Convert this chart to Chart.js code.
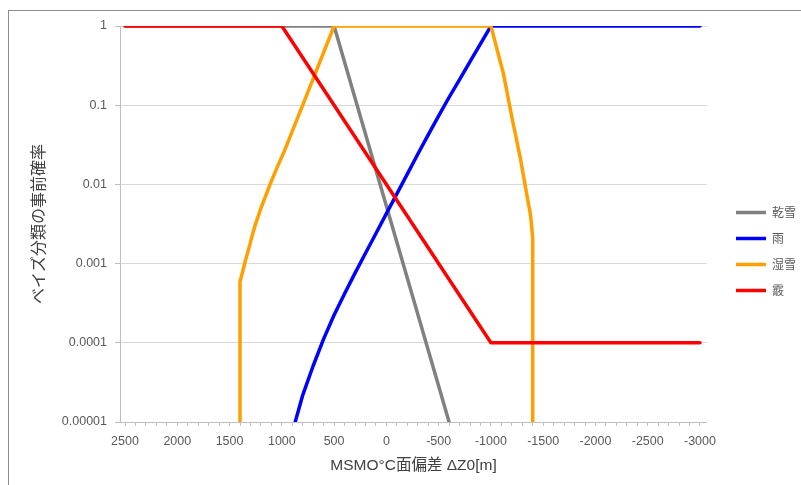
<!DOCTYPE html>
<html>
<head>
<meta charset="utf-8">
<script src="https://cdn.jsdelivr.net/npm/chart.js@4.4.1/dist/chart.umd.min.js"></script>
<style>
    html, body { margin: 0; padding: 0; background: #fff; overflow: hidden; }
    #wrap { position: relative; width: 801px; height: 485px; overflow: hidden; }
    #frame { position: absolute; left: 8px; top: 10px; width: 830px; height: 520px; border: 1px solid #8c8c8c; }
    canvas { position: absolute; left: 0; top: 0; }
</style>
</head>
<body>
<div id="wrap">
    <div id="frame"></div>
    <canvas id="chart" width="801" height="485"></canvas>
</div>
<script>
// series names (legend)
const seriesNames = ['乾雪', '雨', '湿雪', '霰'];

// 乾雪
const drySnowX = [2500, 500, -600];
const drySnowY = [1, 1, 0.00001];

// 雨
const rainX = [872, 800, 700, 600, 500, 400, 300, 200, 100, 0, -100, -200, -300, -400, -500, -600, -700, -800, -900, -1000, -3000];
const rainY = [0.00001, 0.0000219, 0.0000513, 0.000112, 0.000224, 0.000417, 0.000759, 0.00135, 0.0024, 0.00427, 0.00759, 0.0135, 0.024, 0.0422, 0.0733, 0.126, 0.211, 0.355, 0.596, 1, 1];

// 湿雪
const wetSnowX = [1400, 1400, 1375, 1350, 1320, 1290, 1250, 1200, 1150, 1110, 1050, 970, 900, 825, 500,
    -1000, -1120, -1200, -1280, -1330, -1380, -1400, -1400];
const wetSnowY = [0.00001, 0.00059, 0.00079, 0.00107, 0.00148, 0.0021, 0.0032, 0.005, 0.0074, 0.0102, 0.0158, 0.0275, 0.047, 0.083, 1,
    1, 0.25, 0.071, 0.022, 0.0093, 0.004, 0.0021, 0.00001];

// 霰
const graupelX = [2500, 1000, -1000, -3000];
const graupelY = [1, 1, 0.0001, 0.0001];

// y axis ticks
const yTickValues = [0.00001, 0.0001, 0.001, 0.01, 0.1, 1];
const yTickLabels = ['0.00001', '0.0001', '0.001', '0.01', '0.1', '1'];

const xTitle = 'MSMO°C面偏差 ΔZ0[m]';
const yTitle = 'ベイズ分類の事前確率';

const toPoints = (xs, ys) => xs.map((x, i) => ({ x: x, y: ys[i] }));

const tickFont = { family: "'Liberation Sans', Arial, sans-serif", size: 12.5 };

const lineStyle = (color, order) => ({
    borderColor: color,
    backgroundColor: color,
    borderWidth: 3.5,
    pointRadius: 0,
    pointHoverRadius: 0,
    tension: 0,
    fill: false,
    borderJoinStyle: 'round',
    borderCapStyle: 'round',
    order: order
});

// push the legend a little to the right / up, like the original
const legendShift = {
    id: 'legendShift',
    afterLayout(chart) {
        const lg = chart.legend;
        lg.left += 15; lg.right += 15;
        lg.top -= 4; lg.bottom -= 4;
    }
};

const ctx = document.getElementById('chart').getContext('2d');
const chart = new Chart(ctx, {
    type: 'line',
    data: {
        datasets: [
            { label: seriesNames[0], data: toPoints(drySnowX, drySnowY), ...lineStyle('#808080', 4) },
            { label: seriesNames[1], data: toPoints(rainX, rainY), ...lineStyle('#0000ff', 3) },
            { label: seriesNames[2], data: toPoints(wetSnowX, wetSnowY), ...lineStyle('#ff9f00', 2) },
            { label: seriesNames[3], data: toPoints(graupelX, graupelY), ...lineStyle('#ff0000', 1) }
        ]
    },
    plugins: [legendShift],
    options: {
        responsive: false,
        animation: false,
        layout: { padding: { left: 8, top: 26, right: 10, bottom: 0 } },
        scales: {
            x: {
                type: 'linear',
                reverse: true,
                min: -3067,
                max: 2548,
                afterFit: (axis) => { axis.height = 63; },
                ticks: {
                    stepSize: 100,
                    includeBounds: false,
                    autoSkip: false,
                    maxRotation: 0,
                    minRotation: 0,
                    padding: 8,
                    color: '#595959',
                    font: tickFont,
                    callback: (v) => (v % 500 === 0 ? String(v) : '')
                },
                grid: {
                    drawOnChartArea: false,
                    drawTicks: true,
                    tickLength: 4,
                    color: '#bfbfbf'
                },
                border: { color: '#bfbfbf' },
                title: {
                    display: true,
                    text: xTitle,
                    color: '#404040',
                    font: { family: "'Liberation Sans', 'Noto Sans CJK JP', sans-serif", size: 15.5 },
                    padding: { top: 0, bottom: 10 }
                }
            },
            y: {
                type: 'logarithmic',
                min: 0.00001,
                max: 1,
                afterFit: (axis) => { axis.width = 112; },
                afterBuildTicks: (axis) => {
                    axis.ticks = yTickValues.map(v => ({ value: v }));
                },
                ticks: {
                    padding: 8,
                    color: '#595959',
                    font: tickFont,
                    callback: (v) => yTickLabels[yTickValues.indexOf(v)]
                },
                grid: {
                    color: '#d9d9d9',
                    tickColor: '#bfbfbf',
                    tickLength: 5
                },
                border: { color: '#bfbfbf' },
                title: {
                    display: true,
                    text: yTitle,
                    color: '#404040',
                    font: { family: "'Noto Sans CJK JP', sans-serif", size: 16 },
                    padding: { top: 20, bottom: 0 }
                }
            }
        },
        plugins: {
            legend: {
                position: 'right',
                labels: {
                    usePointStyle: true,
                    pointStyle: 'line',
                    pointStyleWidth: 30,
                    padding: 14,
                    color: '#595959',
                    font: { family: "'Noto Sans CJK JP', sans-serif", size: 12 },
                    sort: (a, b) => a.datasetIndex - b.datasetIndex
                }
            },
            tooltip: { enabled: false }
        }
    }
});
</script>
</body>
</html>
